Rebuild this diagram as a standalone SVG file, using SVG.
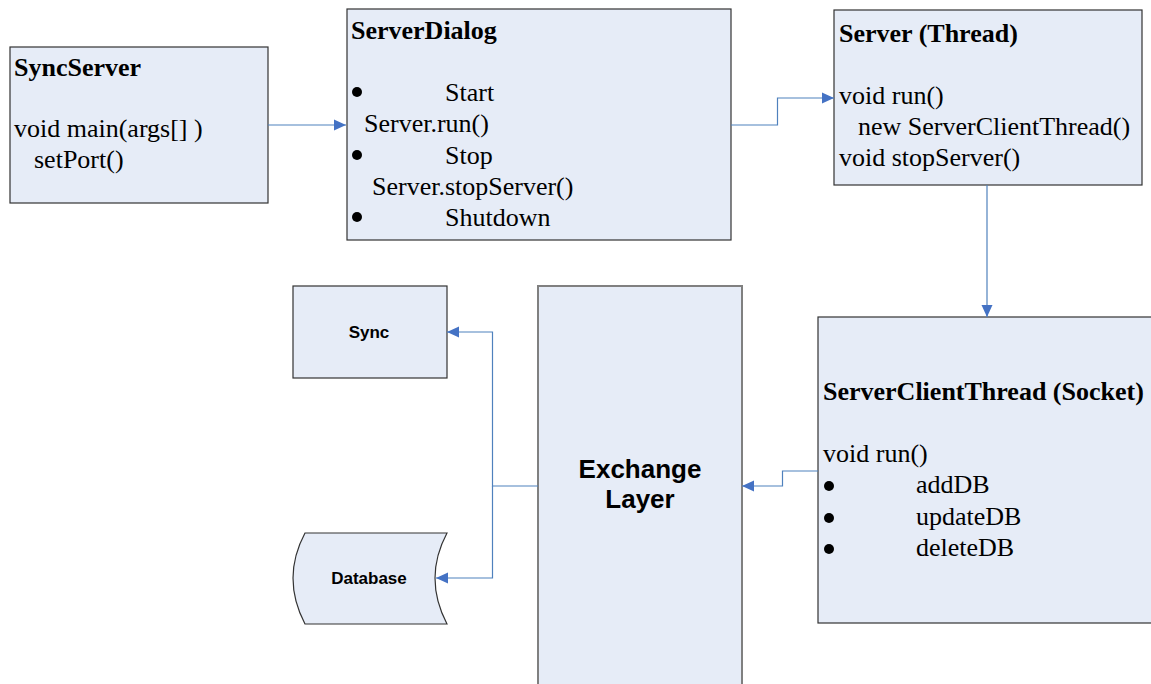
<svg xmlns="http://www.w3.org/2000/svg" width="1151" height="684" viewBox="0 0 1151 684">
  <style>
    .box { fill: #E6ECF7; stroke: #333333; stroke-width: 1.2; }
    .layer { fill: #E6ECF7; stroke: #808080; stroke-width: 2; }
    .serif { font-family: "Liberation Serif", "Times New Roman", serif; font-size: 26px; fill: #000; }
    .serif-b { font-family: "Liberation Serif", "Times New Roman", serif; font-size: 26px; font-weight: bold; fill: #000; }
    .sans-b { font-family: "Liberation Sans", Arial, sans-serif; font-weight: bold; fill: #000; text-anchor: middle; }
    .conn { fill: none; stroke: #4F81BD; stroke-width: 1.2; }
  </style>
  <defs>
    <marker id="arrow" markerUnits="userSpaceOnUse" markerWidth="13" markerHeight="12" refX="12" refY="6" orient="auto">
      <path d="M0,0.5 L12,6 L0,11.5 Z" fill="#4472C4"/>
    </marker>
    <!-- list bullet -->
    <circle id="dot" r="5" fill="#000"/>
  </defs>

  <rect width="1151" height="684" fill="#FFFFFF"/>

  <g id="syncserver">
    <rect class="box" x="10" y="47" width="258" height="156"/>
    <text class="serif-b" x="14" y="76">SyncServer</text>
    <text class="serif" x="14" y="137">void main(args[] )</text>
    <text class="serif" x="34" y="168">setPort()</text>
  </g>

  <g id="serverdialog">
    <rect class="box" x="347" y="9" width="384" height="231"/>
    <text class="serif-b" x="351" y="39">ServerDialog</text>
    <use href="#dot" x="357" y="92"/>
    <text class="serif" x="445" y="101">Start</text>
    <text class="serif" x="364" y="132">Server.run()</text>
    <use href="#dot" x="357" y="155"/>
    <text class="serif" x="445" y="164">Stop</text>
    <text class="serif" x="372" y="195">Server.stopServer()</text>
    <use href="#dot" x="357" y="217"/>
    <text class="serif" x="445" y="226">Shutdown</text>
  </g>

  <g id="server">
    <rect class="box" x="834" y="10" width="308" height="175"/>
    <text class="serif-b" x="839" y="42">Server (Thread)</text>
    <text class="serif" x="839" y="104">void run()</text>
    <text class="serif" x="858" y="135">new ServerClientThread()</text>
    <text class="serif" x="839" y="166">void stopServer()</text>
  </g>

  <g id="serverclientthread">
    <rect class="box" x="818" y="317" width="334" height="306"/>
    <text class="serif-b" x="823" y="400">ServerClientThread (Socket)</text>
    <text class="serif" x="823" y="462">void run()</text>
    <use href="#dot" x="829" y="486"/>
    <text class="serif" x="916" y="493">addDB</text>
    <use href="#dot" x="829" y="518"/>
    <text class="serif" x="916" y="525">updateDB</text>
    <use href="#dot" x="829" y="549"/>
    <text class="serif" x="916" y="556">deleteDB</text>
  </g>

  <g id="exchange-layer">
    <rect class="layer" x="538" y="286" width="204" height="420"/>
    <text class="sans-b" x="640" y="478" font-size="26">Exchange</text>
    <text class="sans-b" x="640" y="508" font-size="26">Layer</text>
  </g>

  <g id="sync">
    <rect class="box" x="293" y="286" width="154" height="92"/>
    <text class="sans-b" x="369" y="338" font-size="17">Sync</text>
  </g>

  <g id="database">
    <path class="box" d="M305,533 H447 Q423,578 447,624 H305 Q281,578 305,533 Z"/>
    <text class="sans-b" x="369" y="584" font-size="17">Database</text>
  </g>

  <g id="connectors">
    <path class="conn" d="M268,125 H346" marker-end="url(#arrow)"/>
    <path class="conn" d="M731,125 H777.5 V98 H834" marker-end="url(#arrow)"/>
    <path class="conn" d="M987,185 V317" marker-end="url(#arrow)"/>
    <path class="conn" d="M818,471 H782.5 V486 H742" marker-end="url(#arrow)"/>
    <path class="conn" d="M538,486 H492.5 V332 H447" marker-end="url(#arrow)"/>
    <path class="conn" d="M492.5,486 V578 H436" marker-end="url(#arrow)"/>
  </g>
</svg>
